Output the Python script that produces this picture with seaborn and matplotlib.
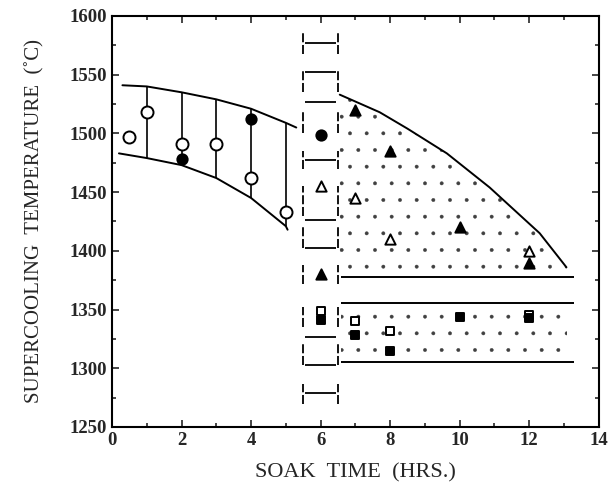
import numpy as np
import pandas as pd
import matplotlib
matplotlib.use('Agg')
import matplotlib.pyplot as plt
import seaborn as sns

# Data
# circles (left region + x=6)
circ_open_x = [0.5, 1, 2, 3, 4, 5]
circ_open_y = [1497, 1518, 1491, 1491, 1462, 1433]
circ_fill_x = [2, 4, 6]
circ_fill_y = [1478, 1512, 1499]

# triangles
tri_open_x = [6, 7, 8, 12]
tri_open_y = [1455, 1445, 1410, 1400]
tri_fill_x = [6, 7, 8, 10, 12]
tri_fill_y = [1380, 1520, 1485, 1420, 1390]

# squares
sq_open_x = [6, 7, 8, 12]
sq_open_y = [1349, 1340, 1332, 1345]
sq_fill_x = [6, 7, 8, 10, 12]
sq_fill_y = [1341, 1328, 1315, 1344, 1343]

# band boundaries
left_up_x = [0.3, 1, 2, 3, 4, 5, 5.3]
left_up_y = [1541, 1540, 1535, 1529, 1521, 1509, 1505]
left_lo_x = [0.2, 1, 2, 3, 4, 5, 5.05]
left_lo_y = [1483, 1479, 1473, 1462, 1445, 1421, 1418]
vbar_x = [1, 2, 3, 4, 5]

right_up_x = [6.55, 7.7, 8.5, 9.63, 10.86, 12.3, 13.07]
right_up_y = [1533, 1518, 1504, 1483, 1454, 1415, 1386]
tri_floor = 1378
sq_top = 1356
sq_bottom = 1305

# dashed column at 6 hrs
col_hlines = [1577, 1552, 1527, 1477, 1426, 1402, 1327, 1303, 1279]
col_vsegs = [(1568, 1586), (1535, 1555), (1500, 1520), (1470, 1485),
             (1430, 1455), (1402, 1420), (1372, 1388), (1335, 1352),
             (1303, 1322), (1270, 1287)]

sns.set_style("ticks")
plt.rcParams['font.family'] = ['Liberation Serif', 'DejaVu Serif']
plt.rcParams['hatch.linewidth'] = 0.3

fig = plt.figure(figsize=(6.11, 4.99), dpi=100)
ax = fig.add_axes([0.1833, 0.1443, 0.7967, 0.8237])

# stippled regions
ax.fill_between(right_up_x, right_up_y, tri_floor, facecolor='none',
                edgecolor='0.25', hatch='.', linewidth=0)
ax.fill_between([6.6, 13.1], sq_top, sq_bottom, facecolor='none',
                edgecolor='0.25', hatch='.', linewidth=0)

# boundaries
sns.lineplot(x=left_up_x, y=left_up_y, color='black', lw=1.4, ax=ax)
sns.lineplot(x=left_lo_x, y=left_lo_y, color='black', lw=1.4, ax=ax)
sns.lineplot(x=right_up_x, y=right_up_y, color='black', lw=1.4, ax=ax)
ax.hlines([tri_floor, sq_top, sq_bottom], 6.6, 13.3, color='black', lw=1.4)

# vertical range bars in the left band
for xv in vbar_x:
    top = np.interp(xv, left_up_x, left_up_y)
    bot = np.interp(xv, left_lo_x, left_lo_y)
    ax.vlines(xv, bot, top, color='black', lw=1.2)

# column at 6 hrs
ax.hlines(col_hlines, 5.55, 6.45, color='black', lw=1.3)
for lo, hi in col_vsegs:
    ax.vlines([5.5, 6.5], lo, hi, color='black', lw=1.3, linestyles=(0, (5, 1.5)))

# markers
kw = dict(ax=ax, edgecolor='black', linewidth=1.4, legend=False, zorder=5)
sns.scatterplot(x=circ_open_x, y=circ_open_y, marker='o', s=75, color='white', **kw)
sns.scatterplot(x=circ_fill_x, y=circ_fill_y, marker='o', s=55, color='black', **kw)
sns.scatterplot(x=tri_open_x, y=tri_open_y, marker='^', s=55, color='white', **kw)
sns.scatterplot(x=tri_fill_x, y=tri_fill_y, marker='^', s=55, color='black', **kw)
sns.scatterplot(x=sq_open_x, y=sq_open_y, marker='s', s=35, color='white', **kw)
sns.scatterplot(x=sq_fill_x, y=sq_fill_y, marker='s', s=30, color='black', **kw)

ax.set_xlim(0, 14)
ax.set_ylim(1250, 1600)
ax.set_xticks(np.arange(0, 15, 2))
ax.set_yticks(np.arange(1250, 1601, 50))
ax.set_xticks(np.arange(0, 15, 1), minor=True)
ax.set_yticks(np.arange(1250, 1601, 25), minor=True)
ax.tick_params(which='both', direction='in', top=True, right=True, width=1.2)
ax.tick_params(which='major', length=5, labelsize=13.5)
ax.tick_params(which='minor', length=3)
for lab in ax.get_xticklabels() + ax.get_yticklabels():
    lab.set_fontweight('bold')
for sp in ax.spines.values():
    sp.set_linewidth(1.5)
    sp.set_color('black')

ax.set_xlabel('SOAK  TIME  (HRS.)', fontsize=16, labelpad=10)
ax.set_ylabel('SUPERCOOLING  TEMPERATURE  (\u02daC)', fontsize=15, labelpad=18)

fig.savefig('out.png', dpi=100)
